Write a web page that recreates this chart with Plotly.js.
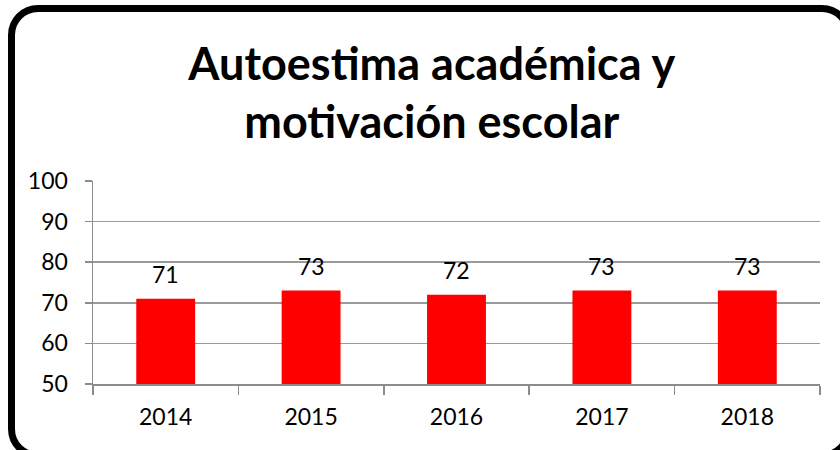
<!DOCTYPE html>
<html>
<head>
<meta charset="utf-8">
<script src="https://cdn.plot.ly/plotly-3.0.1.min.js"></script>
<style>
  html, body { margin: 0; padding: 0; background: #fff; overflow: hidden; }
  #chart { width: 840px; height: 450px; position: absolute; left: 0; top: 0; }
  #frame { position: absolute; left: 8px; top: 5px; width: 830px; height: 440px;
           border: 7px solid #000; border-radius: 30px; pointer-events: none; box-sizing: content-box; }
</style>
</head>
<body>
<div id="chart"></div>
<div id="frame"></div>
<script>
const years = ['2014', '2015', '2016', '2017', '2018'];
const values = [71, 73, 72, 73, 73];
const yTicks = [50, 60, 70, 80, 90, 100];
const titleText = 'Autoestima académica y<br>motivación escolar';

const font = 'Lato, "Open Sans", sans-serif';

const trace = {
  type: 'bar',
  x: years,
  y: values,
  marker: { color: '#ff0000' },
  hoverinfo: 'skip'
};

const annotations = years.map((yr, i) => ({
  x: i, y: values[i], text: String(values[i]),
  xref: 'x', yref: 'y',
  showarrow: false, yshift: 25,
  font: { family: font, size: 23, color: '#000' }
}));

const layout = {
  width: 840, height: 450,
  margin: { l: 93, r: 20, t: 181, b: 66 },
  paper_bgcolor: 'rgba(0,0,0,0)',
  plot_bgcolor: 'rgba(0,0,0,0)',
  bargap: 0.595,
  showlegend: false,
  title: {
    text: titleText,
    x: 0.514, xanchor: 'center', xref: 'container',
    y: 0.823, yanchor: 'middle', yref: 'container',
    font: { family: font, size: 45, color: '#000', weight: 'bold' }
  },
  xaxis: {
    type: 'category',
    range: [-0.5, 4.5],
    tickson: 'boundaries',
    ticks: 'outside', ticklen: 9, tickcolor: '#8c8c8c', tickwidth: 1.5,
    showline: true, linecolor: '#8c8c8c', linewidth: 1.5,
    showgrid: false,
    tickfont: { family: font, size: 23, color: '#000' },
    ticklabelstandoff: 12,
    fixedrange: true
  },
  yaxis: {
    range: [50, 100],
    tickvals: yTicks,
    ticktext: yTicks.map(String),
    ticks: 'outside', ticklen: 7, tickcolor: '#8c8c8c', tickwidth: 1.5,
    showline: true, linecolor: '#8c8c8c', linewidth: 1.5,
    showgrid: true, gridcolor: '#9a9a9a', gridwidth: 1.5,
    zeroline: false,
    tickfont: { family: font, size: 23, color: '#000' },
    ticklabelstandoff: 12,
    fixedrange: true
  },
  annotations: annotations
};

Plotly.newPlot('chart', [trace], layout, { displayModeBar: false, staticPlot: true });
</script>
</body>
</html>
